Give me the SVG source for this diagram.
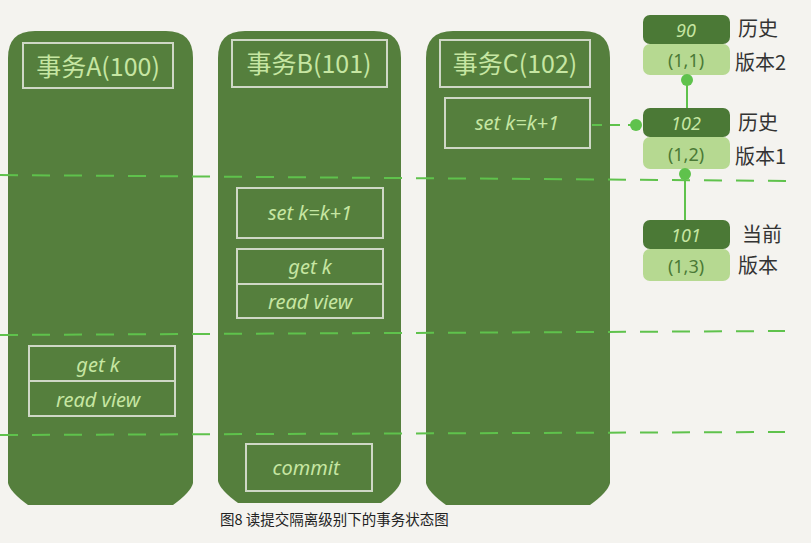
<svg xmlns="http://www.w3.org/2000/svg" width="811" height="543" viewBox="0 0 811 543">
<defs>
<style>
.col{fill:#557f3d;}
.box{fill:none;stroke:#cfd8c6;stroke-width:2;}
.hd{font-family:"Noto Sans CJK SC","Noto Sans",sans-serif;font-size:25px;fill:#c6e6a2;text-anchor:middle;}
.op{font-family:"Noto Sans","Noto Sans CJK SC",sans-serif;font-size:20px;fill:#c6e6a2;text-anchor:middle;font-style:italic;}
.dash{stroke:#5fc24c;stroke-width:2;stroke-dasharray:18 14;fill:none;}
.dk{fill:#4b7936;}
.lt{fill:#b6d991;}
.nv{font-family:"Noto Sans",sans-serif;font-size:18px;fill:#c6e6a2;text-anchor:middle;font-style:italic;}
.nt{font-family:"Noto Sans",sans-serif;font-size:18px;fill:#4b7936;text-anchor:middle;}
.lb{font-family:"Noto Sans CJK SC",sans-serif;font-size:20px;fill:#333;}
.link{stroke:#5fc24c;stroke-width:2;fill:none;}
.cap{font-family:"Noto Sans CJK SC",sans-serif;font-size:14.5px;fill:#222;}
</style>
<marker id="dot" viewBox="0 0 10 10" refX="5" refY="5" markerWidth="6" markerHeight="6" orient="auto"><circle cx="5" cy="5" r="5" fill="#5fc24c"/></marker>
</defs>
<rect width="811" height="543" fill="#f4f3ef"/>
<g id="colA">
<path class="col" d="M8,58 Q8,31 35,31 L166,31 Q193,31 193,58 L193,483 Q191,492 173,505 L28,505 Q10,492 8,483 Z"/>
<rect class="box" x="23" y="43" width="150" height="45"/>
<text class="hd" x="98" y="76">事务A(100)</text>
<rect class="box" x="29" y="346" width="146" height="70"/>
<line class="box" x1="29" y1="381" x2="175" y2="381"/>
<text class="op" x="98" y="372">get k</text>
<text class="op" x="98" y="407">read view</text>
</g>
<g id="colB">
<path class="col" d="M218,58 Q218,31 245,31 L374,31 Q401,31 401,58 L401,481 Q399,490 381,503 L238,503 Q220,490 218,481 Z"/>
<rect class="box" x="232" y="40" width="155" height="47"/>
<text class="hd" x="309" y="73">事务B(101)</text>
<rect class="box" x="237" y="188" width="146" height="50"/>
<text class="op" x="310" y="220">set k=k+1</text>
<rect class="box" x="237" y="249" width="146" height="69"/>
<line class="box" x1="237" y1="284" x2="383" y2="284"/>
<text class="op" x="310" y="274">get k</text>
<text class="op" x="310" y="309">read view</text>
<rect class="box" x="246" y="444" width="126" height="47"/>
<text class="op" x="306" y="475">commit</text>
</g>
<g id="colC">
<path class="col" d="M426,58 Q426,31 453,31 L583,31 Q610,31 610,58 L610,483 Q608,492 590,505 L446,505 Q428,492 426,483 Z"/>
<rect class="box" x="440" y="40" width="150" height="47"/>
<text class="hd" x="515" y="73">事务C(102)</text>
<rect class="box" x="445" y="98" width="145" height="50"/>
<text class="op" x="517" y="130">set k=k+1</text>
</g>
<g id="v90">
<rect class="dk" x="643" y="15" width="87" height="29" rx="7"/>
<rect class="lt" x="643" y="44" width="87" height="31" rx="7"/>
<text class="nv" x="686" y="37">90</text>
<text class="nt" x="686" y="67">(1,1)</text>
<text class="lb" x="738" y="36">历史</text>
<text class="lb" x="735" y="70">版本2</text>
</g>
<g id="v102">
<rect class="dk" x="643" y="108" width="87" height="29" rx="7"/>
<rect class="lt" x="643" y="137" width="87" height="32" rx="7"/>
<text class="nv" x="686" y="130">102</text>
<text class="nt" x="686" y="161">(1,2)</text>
<text class="lb" x="738" y="130">历史</text>
<text class="lb" x="735" y="164">版本1</text>
</g>
<g id="v101">
<rect class="dk" x="643" y="220" width="87" height="29" rx="7"/>
<rect class="lt" x="643" y="249" width="87" height="32" rx="7"/>
<text class="nv" x="686" y="242">101</text>
<text class="nt" x="686" y="273">(1,3)</text>
<text class="lb" x="742" y="242">当前</text>
<text class="lb" x="738" y="273">版本</text>
</g>
<g id="connectors">
<line class="dash" x1="0" y1="175" x2="795" y2="181"/>
<line class="dash" x1="0" y1="335" x2="785" y2="331"/>
<line class="dash" x1="0" y1="435" x2="785" y2="432"/>
<line class="link" x1="687" y1="108" x2="687" y2="80" marker-end="url(#dot)"/>
<line class="link" x1="685" y1="220" x2="685" y2="174" marker-end="url(#dot)"/>
<line class="dash" style="stroke-dasharray:10 8" x1="592" y1="125" x2="636" y2="125" marker-end="url(#dot)"/>
</g>
<text class="cap" x="220" y="525">图8 读提交隔离级别下的事务状态图</text>
</svg>
